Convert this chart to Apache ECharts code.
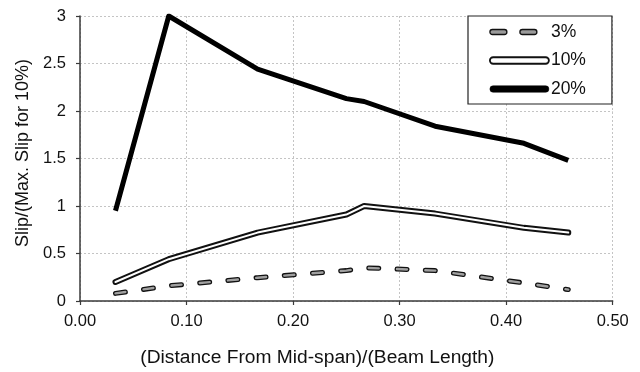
<!DOCTYPE html>
<html>
<head>
<meta charset="utf-8">
<script src="https://cdn.jsdelivr.net/npm/echarts@6/dist/echarts.min.js"></script>
<style>
html,body{margin:0;padding:0;background:#fff;}
#chart{width:640px;height:372px;}
</style>
</head>
<body>
<div id="chart"></div>
<script>
// ---- data ----
var xPositions = [0.0333, 0.0833, 0.1667, 0.25, 0.2667, 0.3333, 0.4167, 0.4583];
var seriesNames = ['3%', '10%', '20%'];
var slip3 = [0.08, 0.16, 0.245, 0.32, 0.35, 0.32, 0.19, 0.12];
var slip10 = [0.20, 0.44, 0.72, 0.91, 1.00, 0.92, 0.77, 0.72];
var slip20 = [0.95, 3.00, 2.44, 2.13, 2.10, 1.84, 1.66, 1.48];
var xTicks = ['0.00', '0.10', '0.20', '0.30', '0.40', '0.50'];
var yTicks = ['0', '0.5', '1', '1.5', '2', '2.5', '3'];

function pairs(ys) { return xPositions.map(function (x, i) { return [x, ys[i]]; }); }

var FONT = '"Liberation Sans", Arial, sans-serif';
var chart = echarts.init(document.getElementById('chart'), null, { renderer: 'canvas' });

var dashIcon = 'path://M2.5,0 H14.5 A2.5,2.5 0 0 1 14.5,5 H2.5 A2.5,2.5 0 0 1 2.5,0 Z M32.5,0 H44.5 A2.5,2.5 0 0 1 44.5,5 H32.5 A2.5,2.5 0 0 1 32.5,0 Z M59,2.5';
var barIcon = 'path://M3.25,0 H55.75 A3.25,3.25 0 0 1 55.75,6.5 H3.25 A3.25,3.25 0 0 1 3.25,0 Z';

var dashPattern = [10, 18.3];

chart.setOption({
  animation: false,
  backgroundColor: '#fff',
  textStyle: { fontFamily: FONT },
  grid: { left: 80, right: 27.3, top: 16, bottom: 68, containLabel: false },
  legend: {
    orient: 'vertical',
    left: 468,
    top: 16,
    padding: [7, 26, 6, 21],
    itemWidth: 59,
    itemHeight: 14,
    itemGap: 10.5,
    backgroundColor: '#fff',
    borderColor: '#222',
    borderWidth: 1.2,
    borderRadius: 0,
    textStyle: { fontFamily: FONT, fontSize: 17.5, color: '#111', padding: [0, 0, 0, -3] },
    data: [
      { name: seriesNames[0], icon: dashIcon, itemStyle: { color: '#9a9a9a', borderColor: '#111', borderWidth: 1.3 } },
      { name: seriesNames[1], icon: barIcon, itemStyle: { color: '#fff', borderColor: '#111', borderWidth: 1.8 } },
      { name: seriesNames[2], icon: barIcon, itemStyle: { color: '#000', borderColor: '#000', borderWidth: 0.5 } }
    ]
  },
  xAxis: {
    type: 'value',
    min: 0, max: 0.5, interval: 0.1,
    name: '(Distance From Mid-span)/(Beam Length)',
    nameLocation: 'middle',
    nameGap: 47,
    nameTextStyle: { fontFamily: FONT, fontSize: 19.2, color: '#111', padding: [0, 58, 0, 0] },
    axisLine: { onZero: false, lineStyle: { color: '#3a3a3a', width: 1.5 } },
    axisTick: { show: true, inside: false, length: 4, lineStyle: { color: '#3a3a3a', width: 1.2 } },
    axisLabel: {
      margin: 12, fontFamily: FONT, fontSize: 16.5, color: '#111',
      formatter: function (v) { return xTicks[Math.round(v * 10)]; }
    },
    splitLine: { show: true, lineStyle: { color: '#c4c4c4', width: 1, type: [2, 2] } }
  },
  yAxis: {
    type: 'value',
    min: 0, max: 3, interval: 0.5,
    name: 'Slip/(Max. Slip for 10%)',
    nameLocation: 'middle',
    nameGap: 47,
    nameRotate: 90,
    nameTextStyle: { fontFamily: FONT, fontSize: 18, color: '#111', padding: [0, 0, 0, 11] },
    axisLine: { show: true, lineStyle: { color: '#3a3a3a', width: 1.5 } },
    axisTick: { show: true, inside: false, length: 4, lineStyle: { color: '#3a3a3a', width: 1.2 } },
    axisLabel: {
      margin: 14, fontFamily: FONT, fontSize: 16.5, color: '#111',
      formatter: function (v) { return yTicks[Math.round(v * 2)]; }
    },
    splitLine: { show: true, lineStyle: { color: '#c4c4c4', width: 1, type: [2, 2] } }
  },
  series: [
    {
      name: seriesNames[0], type: 'line', data: pairs(slip3), showSymbol: false, symbol: 'none',
      lineStyle: { color: '#111', width: 5, type: dashPattern, cap: 'round', join: 'round' }, z: 2
    },
    {
      name: seriesNames[0], type: 'line', data: pairs(slip3), showSymbol: false, symbol: 'none',
      lineStyle: { color: '#a0a0a0', width: 2.4, type: dashPattern, cap: 'round', join: 'round' }, z: 3
    },
    {
      name: seriesNames[1], type: 'line', data: pairs(slip10), showSymbol: false, symbol: 'none',
      lineStyle: { color: '#111', width: 6, cap: 'round', join: 'round' }, z: 2
    },
    {
      name: seriesNames[1], type: 'line', data: pairs(slip10), showSymbol: false, symbol: 'none',
      lineStyle: { color: '#fff', width: 2, cap: 'round', join: 'round' }, z: 3
    },
    {
      name: seriesNames[2], type: 'line', data: pairs(slip20), showSymbol: false, symbol: 'none',
      lineStyle: { color: '#000', width: 5, cap: 'butt', join: 'round' }, z: 4
    }
  ]
});
</script>
</body>
</html>
